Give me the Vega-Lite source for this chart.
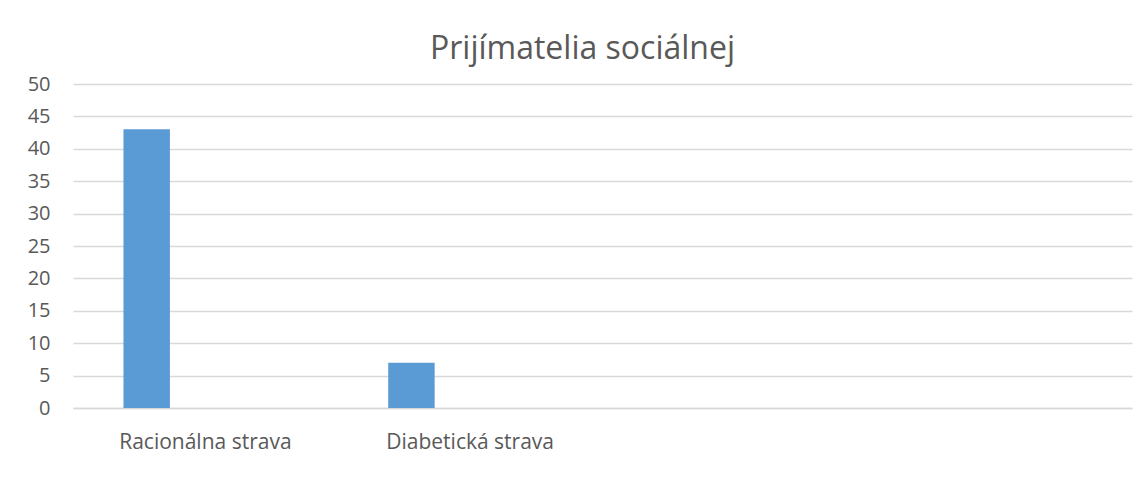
{
  "$schema": "https://vega.github.io/schema/vega-lite/v6.json",
  "width": 1059,
  "height": 324,
  "autosize": {"type": "none"},
  "padding": {"left": 73, "top": 84, "right": 16, "bottom": 81},
  "background": "white",
  "title": {
    "text": "Prijímatelia sociálnej",
    "font": "Open Sans",
    "fontSize": 32,
    "fontWeight": "normal",
    "color": "#595959",
    "anchor": "middle",
    "baseline": "alphabetic",
    "offset": 21,
    "dx": -20,
    "dy": 38
  },
  "data": {
    "values": [
      {"category": "Racionálna strava", "series": "s1", "value": 43},
      {"category": "Diabetická strava", "series": "s1", "value": 7}
    ]
  },
  "mark": {"type": "bar", "color": "#5B9BD5"},
  "encoding": {
    "x": {
      "field": "category",
      "type": "nominal",
      "sort": null,
      "scale": {"domain": ["Racionálna strava", "Diabetická strava", "_3", "_4"], "paddingInner": 0, "paddingOuter": 0},
      "axis": {
        "title": null,
        "labelAngle": 0,
        "labelExpr": "indexof(datum.value, '_') == 0 ? '' : datum.value",
        "ticks": false,
        "labelPadding": 23,
        "labelFont": "Open Sans",
        "labelFontSize": 21,
        "labelColor": "#595959",
        "domainColor": "#D9D9D9",
        "domainWidth": 1.3,
        "grid": false
      }
    },
    "xOffset": {
      "field": "series",
      "type": "nominal",
      "scale": {"domain": ["s1", "s2", "s3"], "paddingInner": 0.2085, "paddingOuter": 0.86}
    },
    "y": {
      "field": "value",
      "type": "quantitative",
      "scale": {"domain": [0, 50]},
      "axis": {
        "title": null,
        "values": [0, 5, 10, 15, 20, 25, 30, 35, 40, 45, 50],
        "domain": false,
        "ticks": false,
        "labelPadding": 23,
        "labelFont": "Open Sans",
        "labelFontSize": 20,
        "labelColor": "#595959",
        "gridColor": "#D9D9D9",
        "gridWidth": 1.3
      }
    }
  },
  "config": {"view": {"stroke": null}}
}
